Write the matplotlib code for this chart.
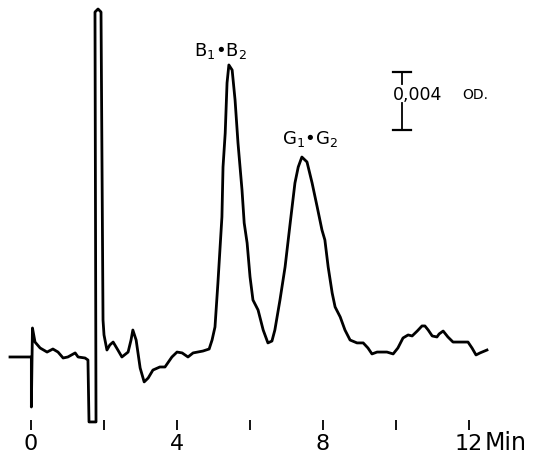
import numpy as np
import matplotlib
matplotlib.use('Agg')
import matplotlib.pyplot as plt

# retention time (min) and detector response (x 0.001 OD above baseline)
time_min = [-0.575, -0.027, 0.01, 0.01, 0.04, 0.11, 0.25, 0.44, 0.60, 0.74,
            0.88, 1.01, 1.21, 1.29, 1.48, 1.56, 1.589, 1.781, 1.753, 1.836,
            1.918, 1.973, 2.0, 2.08, 2.16, 2.25, 2.38, 2.49, 2.66, 2.74,
            2.79, 2.88, 2.99, 3.10, 3.21, 3.34, 3.53, 3.67, 3.86, 4.0,
            4.14, 4.30, 4.44, 4.71, 4.88, 4.96, 5.04, 5.12, 5.23, 5.26,
            5.32, 5.37, 5.42, 5.51, 5.59, 5.67, 5.78, 5.84, 5.92, 6.0,
            6.08, 6.22, 6.36, 6.49, 6.60, 6.68, 6.82, 6.96, 7.10, 7.23,
            7.32, 7.42, 7.56, 7.70, 7.84, 7.97, 8.05, 8.14, 8.25, 8.33,
            8.47, 8.60, 8.74, 8.93, 9.10, 9.23, 9.34, 9.48, 9.75, 9.92,
            10.05, 10.19, 10.33, 10.44, 10.58, 10.71, 10.79, 10.88, 10.99, 11.12,
            11.18, 11.29, 11.42, 11.56, 11.75, 11.97, 12.08, 12.19, 12.30, 12.49]
signal = [0.0, 0.0, 0.0, -3.45, 2.0, 1.03, 0.62, 0.34, 0.55, 0.34,
          -0.07, 0.0, 0.28, 0.0, -0.07, -0.21, -4.48, -4.48, 23.79, 24.0,
          23.79, 2.55, 1.52, 0.48, 0.83, 1.03, 0.48, 0.0, 0.34, 1.17,
          1.86, 1.17, -0.76, -1.72, -1.45, -0.90, -0.69, -0.69, 0.0, 0.34,
          0.28, 0.0, 0.28, 0.41, 0.55, 1.17, 2.07, 5.10, 9.66, 13.10,
          15.45, 18.90, 20.14, 19.79, 17.72, 14.76, 11.52, 9.24, 7.86, 5.52,
          3.93, 3.24, 1.86, 0.97, 1.10, 1.86, 3.93, 6.21, 9.24, 12.0,
          13.10, 13.79, 13.45, 12.0, 10.34, 8.76, 8.07, 6.21, 4.41, 3.45,
          2.76, 1.86, 1.17, 0.97, 0.97, 0.62, 0.21, 0.34, 0.34, 0.21,
          0.62, 1.31, 1.52, 1.45, 1.79, 2.14, 2.14, 1.86, 1.45, 1.38,
          1.59, 1.79, 1.38, 1.03, 1.03, 1.03, 0.62, 0.14, 0.28, 0.48]

tick_pos = [0, 2, 4, 6, 8, 10, 12]
tick_labels = ['0', '', '4', '', '8', '', '12']

peak_labels = [r'B$_1$•B$_2$', r'G$_1$•G$_2$']
peak_label_x = [5.2, 7.65]
peak_label_y = [21.1, 15.0]

bar_x = 10.16
bar_bottom = 15.66
bar_top = 19.66

fig = plt.figure(figsize=(5.41, 4.55), dpi=100)
ax = fig.add_axes([0, 0, 1, 1])
ax.set_xlim(-0.849, 13.97)
ax.set_ylim(-6.76, 24.62)

ax.plot(time_min, signal, color='black', lw=2.0, solid_joinstyle='round')

# peak names
for lab, x, y in zip(peak_labels, peak_label_x, peak_label_y):
  ax.text(x, y, lab, fontsize=13, ha='center', va='center')

# 0.004 OD scale bar, broken where the label sits
gap_lo = 17.5
gap_hi = 18.8
ax.plot([bar_x, bar_x], [bar_bottom, gap_lo], color='black', lw=1.3)
ax.plot([bar_x, bar_x], [gap_hi, bar_top], color='black', lw=1.3)
ax.plot([bar_x - 0.24, bar_x + 0.24], [bar_top, bar_top], color='black', lw=1.6)
ax.plot([bar_x - 0.24, bar_x + 0.24], [bar_bottom, bar_bottom], color='black', lw=1.6)
ax.text(9.9, 18.1, '0,004', fontsize=12.5, ha='left', va='center')
ax.text(11.8, 18.1, 'OD.', fontsize=10, ha='left', va='center')

# time axis: detached ticks, no spine
for s in ax.spines.values():
  s.set_visible(False)
ax.spines['bottom'].set_position(('data', -4.35))
ax.set_yticks([])
ax.set_xticks(tick_pos)
ax.set_xticklabels(tick_labels)
ax.tick_params(axis='x', direction='out', length=7, width=1.3, pad=3, labelsize=16)
ax.text(12.42, -5.95, 'Min', fontsize=17, ha='left', va='center')

fig.savefig('out.png', dpi=100)
